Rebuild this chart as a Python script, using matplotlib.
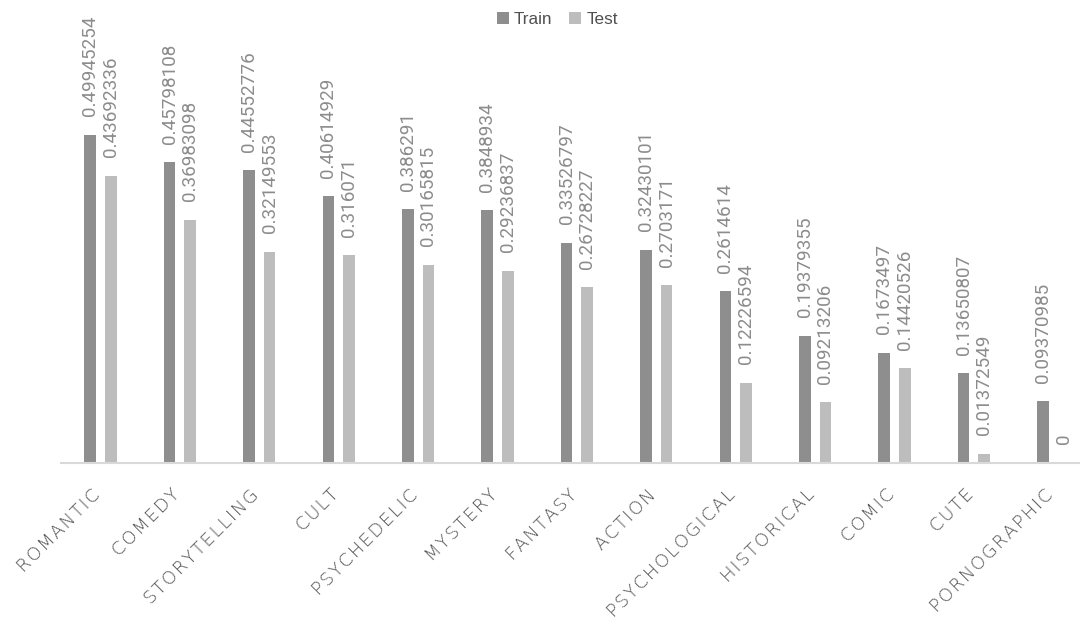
import matplotlib
matplotlib.use("Agg")
import matplotlib.pyplot as plt
import numpy as np

categories = ["ROMANTIC", "COMEDY", "STORYTELLING", "CULT", "PSYCHEDELIC",
              "MYSTERY", "FANTASY", "ACTION", "PSYCHOLOGICAL", "HISTORICAL",
              "COMIC", "CUTE", "PORNOGRAPHIC"]
train = [0.49945254, 0.45798108, 0.44552776, 0.40614929, 0.386291,
         0.3848934, 0.33526797, 0.32430101, 0.2614614, 0.19379355,
         0.1673497, 0.13650807, 0.09370985]
test = [0.43692336, 0.36983098, 0.32149553, 0.316071, 0.30165815,
        0.29236837, 0.26728227, 0.2703171, 0.12226594, 0.09213206,
        0.14420526, 0.01372549, 0]

train_color = "#8e8e8e"
test_color = "#bdbdbd"
label_color = "#8c8c8c"
cat_color = "#505050"

fig = plt.figure(figsize=(10.8, 6.22), dpi=100)
ax = fig.add_axes([60.8 / 1080, 159 / 622, 13 * 79.4 / 1080, 394 / 622])

x = np.arange(len(categories))
w = 0.145
off = 0.13
ax.bar(x - off, train, width=w, color=train_color, label="Train", zorder=2)
ax.bar(x + off, test, width=w, color=test_color, label="Test", zorder=2)

ax.set_xlim(-0.5, len(categories) - 0.5)
ax.set_ylim(0, 0.6)

value_font = dict(family="Roboto", weight="normal", fontsize=13.6,
                  color=label_color)
for xs, vals in ((x - off, train), (x + off, test)):
    for xi, v in zip(xs, vals):
        ax.annotate(str(v), (xi, v), xytext=(0, 13.5),
                    textcoords="offset points", rotation=90, ha="center",
                    va="bottom", **value_font)

for s in ["top", "right", "left"]:
    ax.spines[s].set_visible(False)
ax.spines["bottom"].set_color("#d9d9d9")
ax.spines["bottom"].set_linewidth(1.5)
ax.set_yticks([])
ax.set_xticks([])

# spaced-out category names, rotated 45 degrees and ending under each group
for xi, name in zip(x, categories):
    ax.annotate("\u200a".join(name), (xi, 0), xytext=(-2, -21),
                textcoords="offset points", rotation=45, ha="right",
                va="center", rotation_mode="anchor", fontsize=13,
                color=cat_color, family="DejaVu Sans", weight="light",
                annotation_clip=False)

leg = fig.legend(loc="upper center", bbox_to_anchor=(0.516, 1.005), ncol=2,
                 frameon=False, handlelength=0.7, handleheight=0.7,
                 handletextpad=0.3, columnspacing=1.0,
                 prop={"family": "Liberation Sans", "size": 12.3})
for t in leg.get_texts():
    t.set_color(cat_color)

fig.savefig("out.png", dpi=100)
